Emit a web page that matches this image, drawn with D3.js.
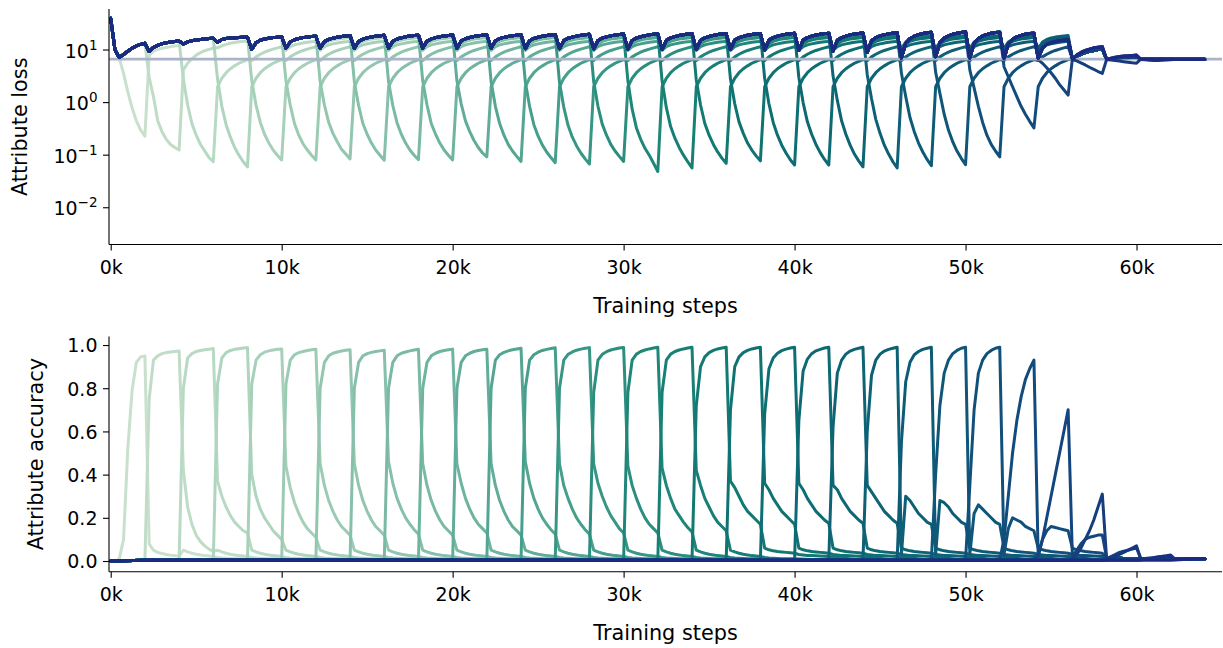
<!DOCTYPE html>
<html>
<head>
<meta charset="utf-8">
<script src="https://cdn.jsdelivr.net/npm/d3@7"></script>
<style>
html,body{margin:0;padding:0;background:#fff;}
svg{display:block;font-family:"DejaVu Sans",sans-serif;}
</style>
</head>
<body>
<svg id="chart" width="1223" height="648"></svg>
<script>
// ---------------- DATA ----------------
// sample grid: every 250 training steps, 0 .. 64k (8 samples per 2k attribute window)
const steps = d3.range(0, 64001, 250);
const xTicks = [0, 10000, 20000, 30000, 40000, 50000, 60000];
const lossTicks = [0.01, 0.1, 1, 10];
const lossTickLabels = [["10", "\u22122"], ["10", "\u22121"], ["10", "0"], ["10", "1"]];
const accTicks = [0, 0.2, 0.4, 0.6, 0.8, 1.0];
const chanceLoss = 6.7;

// loss of attributes not yet trained (top navy line), 8 samples per 2k window
const lossUntrained = [
  40, 10, 7.2, 8.2, 9.5, 10.8, 12.0, 12.8,
  13.4, 9.4, 11.2, 12.3, 13.2, 13.8, 14.2, 14.5,
  14.8, 13.0, 14.3, 15.0, 15.5, 15.9, 16.2, 16.5,
  16.7, 14.0, 15.8, 16.5, 16.9, 17.1, 17.3, 17.4,
  17.5, 10.2, 13.8, 15.3, 16.2, 16.8, 17.2, 17.5,
  17.8, 10.8, 14.2, 15.7, 16.6, 17.2, 17.6, 18.0,
  18.3, 10.8, 14.4, 15.9, 16.8, 17.5, 18.0, 18.4,
  18.8, 10.8, 14.6, 16.1, 17.0, 17.7, 18.3, 18.7,
  19.0, 10.8, 14.7, 16.2, 17.1, 17.8, 18.4, 18.8,
  19.1, 10.8, 14.8, 16.3, 17.2, 17.9, 18.5, 18.9,
  19.3, 10.8, 14.9, 16.4, 17.3, 18.0, 18.6, 19.0,
  19.4, 10.8, 15.0, 16.5, 17.4, 18.1, 18.7, 19.1,
  19.5, 10.6, 15.0, 16.6, 17.5, 18.2, 18.8, 19.3,
  19.7, 10.6, 15.1, 16.7, 17.6, 18.4, 19.0, 19.5,
  19.9, 10.5, 15.2, 16.8, 17.8, 18.6, 19.2, 19.7,
  20.1, 10.4, 15.2, 16.9, 17.9, 18.7, 19.4, 19.9,
  20.3, 10.3, 15.3, 17.0, 18.0, 18.9, 19.6, 20.1,
  20.5, 10.2, 15.3, 17.0, 18.1, 19.0, 19.7, 20.2,
  20.6, 10.2, 15.4, 17.1, 18.2, 19.1, 19.8, 20.3,
  20.7, 10.0, 15.4, 17.2, 18.3, 19.2, 19.9, 20.4,
  20.8, 9.8, 15.4, 17.2, 18.4, 19.3, 20.0, 20.5,
  20.9, 9.5, 15.3, 17.2, 18.4, 19.4, 20.1, 20.6,
  21.0, 9.0, 15.0, 17.2, 18.5, 19.5, 20.3, 20.9,
  21.3, 7.0, 13.5, 16.5, 18.3, 19.6, 20.6, 21.3,
  21.8, 7.4, 13.8, 16.8, 18.6, 19.9, 20.9, 21.6,
  22.2, 7.0, 13.5, 16.6, 18.5, 19.8, 20.8, 21.5,
  21.8, 6.9, 13.0, 16.0, 17.8, 19.0, 20.0, 20.7,
  20.8, 6.9, 11.0, 12.8, 13.8, 14.5, 15.0, 15.4,
  15.8, 6.6, 8.0, 9.0, 9.8, 10.4, 11.0, 11.3,
  11.6, 6.6, 7.0, 7.3, 7.5, 7.7, 7.8, 7.9,
  8.0, 6.75, 6.75, 6.75, 6.75, 6.75, 6.75, 6.75,
  6.75, 6.75, 6.75, 6.75, 6.75, 6.75, 6.75, 6.75,
  6.75
];

// loss of each attribute during its own 2k training window (+250 .. +2000)
const lossTrain = [
  [10, 7.0, 3.6, 1.6, 0.8, 0.45, 0.3, 0.23],
  [3.0, 1.3, 0.45, 0.28, 0.2, 0.16, 0.14, 0.125],
  [2.8, 0.9, 0.4, 0.24, 0.16, 0.12, 0.09, 0.075],
  [2.8, 0.85, 0.38, 0.22, 0.14, 0.1, 0.075, 0.06],
  [2.6, 0.9, 0.42, 0.25, 0.17, 0.125, 0.1, 0.081],
  [2.6, 0.9, 0.4, 0.24, 0.165, 0.125, 0.1, 0.081],
  [2.5, 0.9, 0.42, 0.26, 0.18, 0.13, 0.105, 0.085],
  [2.5, 0.88, 0.4, 0.25, 0.17, 0.125, 0.1, 0.08],
  [2.5, 0.88, 0.41, 0.25, 0.17, 0.125, 0.1, 0.082],
  [2.6, 0.9, 0.4, 0.25, 0.17, 0.125, 0.1, 0.081],
  [2.6, 0.95, 0.45, 0.28, 0.19, 0.14, 0.11, 0.093],
  [2.5, 0.85, 0.4, 0.24, 0.16, 0.12, 0.095, 0.076],
  [2.5, 0.85, 0.38, 0.23, 0.155, 0.115, 0.09, 0.072],
  [2.4, 0.82, 0.37, 0.22, 0.15, 0.11, 0.085, 0.068],
  [2.5, 0.85, 0.39, 0.24, 0.16, 0.12, 0.095, 0.076],
  [2.6, 0.75, 0.33, 0.2, 0.135, 0.1, 0.07, 0.049],
  [2.6, 0.8, 0.35, 0.21, 0.14, 0.1, 0.075, 0.057],
  [2.7, 0.9, 0.4, 0.24, 0.16, 0.115, 0.088, 0.07],
  [2.8, 0.95, 0.43, 0.26, 0.17, 0.125, 0.097, 0.078],
  [2.9, 0.95, 0.42, 0.24, 0.155, 0.11, 0.082, 0.065],
  [3.0, 1.0, 0.43, 0.25, 0.16, 0.112, 0.083, 0.065],
  [3.2, 1.1, 0.45, 0.25, 0.155, 0.105, 0.078, 0.06],
  [3.4, 1.2, 0.48, 0.26, 0.155, 0.105, 0.075, 0.057],
  [3.6, 1.3, 0.52, 0.28, 0.17, 0.115, 0.083, 0.063],
  [3.8, 1.5, 0.6, 0.3, 0.18, 0.12, 0.087, 0.066],
  [4.2, 1.9, 0.85, 0.42, 0.24, 0.16, 0.12, 0.093],
  [4.8, 3.1, 2.0, 1.3, 0.85, 0.6, 0.44, 0.33],
  [6.6, 5.6, 4.6, 3.7, 2.9, 2.2, 1.75, 1.39],
  [6.6, 6.2, 5.7, 5.2, 4.7, 4.3, 3.9, 3.6],
  [6.6, 6.45, 6.3, 6.15, 6.0, 5.85, 5.7, 5.6],
  [6.6, 6.5, 6.4, 6.35, 6.35, 6.4, 6.45, 6.5],
  [6.7, 6.7, 6.7, 6.7, 6.7, 6.7, 6.7, 6.7]
];

// loss after an attribute's window (forgetting), ages +250 .. +10000
const lossForget = [
  2.0, 2.9, 3.7, 4.4, 5.0, 5.6, 6.1, 6.6,
  6.3, 7.4, 8.3, 9.1, 9.8, 10.4, 11.0, 11.5,
  9.8, 11.6, 12.5, 13.1, 13.6, 14.0, 14.3, 14.6,
  10.4, 13.2, 14.6, 15.5, 16.1, 16.6, 17.0, 17.3,
  10.7, 14.2, 15.9, 16.9, 17.6, 18.1, 18.5, 18.8
];
// the first two attributes were forgotten differently
const lossPostFirst = [8.0, 9.5, 10.3, 10.8, 11.2, 11.6, 11.9, 12.2];
const lossPostSecond = [4.2, 5.6, 6.8, 8.0, 8.9, 9.7, 10.3, 10.8, 11.0, 12.0, 12.8, 13.4, 13.9, 14.3, 14.6, 14.9];
// loss of already-trained attributes after 56k (56.25k .. 64k)
const lossTailOld = [
  6.8, 7.6, 8.3, 8.9, 9.4, 9.8, 10.2, 10.5,
  6.6, 6.8, 6.9, 7.0, 7.1, 7.15, 7.2, 7.25,
  6.7, 6.7, 6.7, 6.7, 6.7, 6.7, 6.7, 6.7,
  6.7, 6.7, 6.7, 6.7, 6.7, 6.7, 6.7, 6.7
];

// accuracy of untrained attributes, one value per 2k window boundary (0k .. 64k)
const accUntrained = [0.0, 0.003, 0.004, 0.004, 0.004, 0.004, 0.004, 0.004, 0.004, 0.004, 0.004,
  0.004, 0.004, 0.004, 0.004, 0.004, 0.004, 0.004, 0.004, 0.004, 0.004, 0.004, 0.004,
  0.004, 0.004, 0.004, 0.004, 0.004, 0.004, 0.004, 0.004, 0.004, 0.004];

// accuracy during own training window (+250 .. +2000)
const accTrain = [
  [0.0, 0.01, 0.1, 0.52, 0.79, 0.92, 0.945, 0.95],
  [0.75, 0.93, 0.95, 0.96, 0.965, 0.968, 0.97, 0.972],
  [0.8, 0.94, 0.96, 0.97, 0.975, 0.978, 0.98, 0.984],
  [0.82, 0.94, 0.965, 0.975, 0.98, 0.983, 0.986, 0.988],
  [0.82, 0.93, 0.955, 0.967, 0.973, 0.977, 0.98, 0.982],
  [0.82, 0.93, 0.955, 0.965, 0.97, 0.975, 0.978, 0.98],
  [0.8, 0.92, 0.95, 0.962, 0.968, 0.972, 0.976, 0.978],
  [0.8, 0.92, 0.95, 0.96, 0.966, 0.97, 0.973, 0.976],
  [0.8, 0.92, 0.95, 0.962, 0.968, 0.973, 0.977, 0.98],
  [0.8, 0.92, 0.95, 0.962, 0.97, 0.975, 0.978, 0.981],
  [0.8, 0.92, 0.95, 0.962, 0.97, 0.975, 0.978, 0.98],
  [0.8, 0.93, 0.955, 0.966, 0.973, 0.978, 0.982, 0.985],
  [0.8, 0.93, 0.955, 0.967, 0.975, 0.98, 0.984, 0.987],
  [0.8, 0.93, 0.957, 0.968, 0.976, 0.981, 0.985, 0.988],
  [0.78, 0.93, 0.957, 0.969, 0.977, 0.982, 0.986, 0.989],
  [0.78, 0.93, 0.958, 0.97, 0.977, 0.982, 0.986, 0.99],
  [0.78, 0.93, 0.958, 0.97, 0.977, 0.982, 0.986, 0.99],
  [0.72, 0.9, 0.945, 0.965, 0.975, 0.982, 0.986, 0.99],
  [0.7, 0.9, 0.945, 0.965, 0.975, 0.982, 0.986, 0.99],
  [0.68, 0.89, 0.94, 0.962, 0.974, 0.981, 0.986, 0.99],
  [0.65, 0.88, 0.935, 0.96, 0.973, 0.98, 0.986, 0.99],
  [0.62, 0.87, 0.93, 0.958, 0.972, 0.98, 0.985, 0.99],
  [0.6, 0.86, 0.93, 0.958, 0.972, 0.98, 0.985, 0.99],
  [0.55, 0.83, 0.92, 0.955, 0.97, 0.98, 0.985, 0.99],
  [0.4, 0.72, 0.87, 0.93, 0.96, 0.975, 0.985, 0.99],
  [0.35, 0.7, 0.87, 0.93, 0.96, 0.975, 0.985, 0.99],
  [0.1, 0.3, 0.5, 0.65, 0.76, 0.84, 0.89, 0.93],
  [0.03, 0.1, 0.2, 0.3, 0.4, 0.5, 0.6, 0.70],
  [0.01, 0.03, 0.06, 0.1, 0.14, 0.19, 0.25, 0.31],
  [0.005, 0.01, 0.02, 0.03, 0.04, 0.05, 0.06, 0.07],
  [0.005, 0.008, 0.01, 0.015, 0.02, 0.022, 0.025, 0.028],
  [0.005, 0.006, 0.007, 0.008, 0.009, 0.01, 0.01, 0.01]
];

// accuracy in the window right after own training (+250 .. +2000)
const accPost1 = [
  [0.08, 0.05, 0.04, 0.035, 0.03, 0.027, 0.025, 0.022],
  [0.42, 0.25, 0.17, 0.12, 0.09, 0.07, 0.055, 0.045],
  [0.37, 0.3, 0.25, 0.21, 0.18, 0.16, 0.14, 0.13],
  [0.4, 0.3, 0.24, 0.2, 0.17, 0.14, 0.12, 0.1],
  [0.44, 0.34, 0.27, 0.22, 0.18, 0.15, 0.13, 0.11],
  [0.45, 0.35, 0.28, 0.23, 0.19, 0.16, 0.14, 0.12],
  [0.45, 0.35, 0.28, 0.23, 0.19, 0.16, 0.14, 0.12],
  [0.46, 0.36, 0.29, 0.24, 0.2, 0.17, 0.145, 0.125],
  [0.45, 0.35, 0.28, 0.23, 0.19, 0.16, 0.14, 0.12],
  [0.45, 0.36, 0.29, 0.24, 0.2, 0.17, 0.15, 0.13],
  [0.45, 0.35, 0.28, 0.23, 0.19, 0.16, 0.14, 0.12],
  [0.46, 0.36, 0.29, 0.24, 0.2, 0.17, 0.145, 0.125],
  [0.45, 0.35, 0.29, 0.24, 0.2, 0.17, 0.145, 0.125],
  [0.45, 0.36, 0.3, 0.25, 0.21, 0.18, 0.15, 0.13],
  [0.44, 0.35, 0.29, 0.24, 0.2, 0.17, 0.15, 0.13],
  [0.43, 0.35, 0.29, 0.24, 0.21, 0.18, 0.155, 0.135],
  [0.42, 0.35, 0.29, 0.25, 0.21, 0.18, 0.16, 0.14],
  [0.37, 0.34, 0.3, 0.26, 0.23, 0.21, 0.19, 0.17],
  [0.36, 0.33, 0.29, 0.26, 0.23, 0.21, 0.19, 0.17],
  [0.36, 0.33, 0.29, 0.26, 0.23, 0.21, 0.19, 0.175],
  [0.35, 0.33, 0.29, 0.26, 0.23, 0.21, 0.19, 0.175],
  [0.35, 0.32, 0.29, 0.26, 0.23, 0.21, 0.19, 0.175],
  [0.03, 0.3, 0.28, 0.25, 0.22, 0.2, 0.18, 0.17],
  [0.03, 0.28, 0.27, 0.25, 0.22, 0.2, 0.18, 0.17],
  [0.03, 0.22, 0.26, 0.24, 0.22, 0.2, 0.18, 0.17],
  [0.03, 0.15, 0.2, 0.19, 0.18, 0.16, 0.15, 0.14],
  [0.02, 0.1, 0.14, 0.16, 0.155, 0.15, 0.145, 0.14],
  [0.02, 0.05, 0.08, 0.1, 0.11, 0.115, 0.12, 0.12],
  [0.01, 0.02, 0.03, 0.04, 0.045, 0.05, 0.055, 0.06],
  [0.01, 0.012, 0.014, 0.015, 0.016, 0.017, 0.018, 0.02],
  [0.008, 0.009, 0.01, 0.01, 0.01, 0.01, 0.01, 0.01],
  []
];
// accuracy two and three windows after training (early vs. later attributes)
const accPost2Early = [0.05, 0.042, 0.036, 0.031, 0.028, 0.025, 0.023, 0.021];
const accPost3Early = [0.016, 0.014, 0.013, 0.012, 0.011, 0.01, 0.01, 0.01];
const accPost2Late = [0.06, 0.052, 0.047, 0.044, 0.042, 0.04, 0.038, 0.036];
const accPost3Late = [0.03, 0.028, 0.026, 0.025, 0.024, 0.023, 0.022, 0.021];
// accuracy of older attributes after 58k (58.25k .. 64k)
const accTailOld = [0.015, 0.014, 0.013, 0.013, 0.012, 0.012, 0.012, 0.012,
  0.011, 0.011, 0.011, 0.011, 0.011, 0.011, 0.011, 0.011,
  0.01, 0.01, 0.01, 0.01, 0.01, 0.01, 0.01, 0.01];

const colorStops = ["#c8e0cc", "#a9d2ba", "#7fbca6", "#4ca390", "#138072", "#0b6c72", "#0e5a78", "#14457f", "#1b2a80"];

// ---------------- SERIES ASSEMBLY ----------------
const N_SERIES = lossTrain.length;
const PER = 8;
const LAST = steps.length - 1;

function lossSeries(s) {
  const start = s * PER, end = start + PER;
  const post = s === 0 ? lossPostFirst : (s === 1 ? lossPostSecond : lossForget);
  const pts = [];
  for (let t = 0; t <= LAST; t++) {
    let v;
    if (t <= start) v = lossUntrained[t];
    else if (t <= end) v = lossTrain[s][t - start - 1];
    else if (t >= 225) v = lossTailOld[t - 225];
    else if (t - end <= post.length) v = post[t - end - 1];
    else v = lossUntrained[t];
    pts.push([steps[t], v]);
  }
  return pts;
}

function accSeries(s) {
  const start = s * PER, end = start + PER;
  const late = s >= 17;
  const p2 = late ? accPost2Late : accPost2Early;
  const p3 = late ? accPost3Late : accPost3Early;
  const pts = [];
  for (let t = 0; t <= LAST; t++) {
    if (t <= start) {
      if (t % PER === 0) pts.push([steps[t], accUntrained[t / PER]]);
      continue;
    }
    if (t <= end) { pts.push([steps[t], accTrain[s][t - start - 1]]); continue; }
    const age = t - end;
    if (age <= 8) pts.push([steps[t], accPost1[s][age - 1]]);
    else if (t >= 233) pts.push([steps[t], accTailOld[t - 233]]);
    else if (age <= 16) pts.push([steps[t], p2[age - 9]]);
    else if (age <= 24) pts.push([steps[t], p3[age - 17]]);
    else if (t % PER === 0) pts.push([steps[t], accUntrained[t / PER]]);
  }
  return pts;
}

// ---------------- DRAW ----------------
const svg = d3.select("#chart");
svg.append("rect").attr("width", 1223).attr("height", 648).attr("fill", "#fff");

const left = 109, right = 1222;
const x = d3.scaleLinear().domain([-100, 65000]).range([left, right]);
const yLoss = d3.scaleLog().domain([0.002, 60]).range([244.5, 9.1]);
const yAcc = d3.scaleLinear().domain([-0.0495, 1.0395]).range([571.7, 336.5]);
const color = d3.scaleSequential(d3.interpolateRgbBasis(colorStops)).domain([0, N_SERIES - 1]);

const TICK_FS = 19, LABEL_FS = 20.8;
const defs = svg.append("defs");
defs.append("clipPath").attr("id", "clipTop").append("rect")
  .attr("x", left).attr("y", 9.1).attr("width", right - left).attr("height", 244.5 - 9.1);
defs.append("clipPath").attr("id", "clipBot").append("rect")
  .attr("x", left).attr("y", 336.5).attr("width", right - left).attr("height", 571.7 - 336.5);

function drawPanel(yScale, clipId, seriesFn, withChance) {
  const g = svg.append("g").attr("clip-path", `url(#${clipId})`);
  const line = d3.line().x(d => x(d[0])).y(d => yScale(d[1]));
  for (let s = 0; s < N_SERIES; s++) {
    if (withChance && s === 28) {
      g.append("line")
        .attr("x1", left).attr("x2", right)
        .attr("y1", yScale(chanceLoss)).attr("y2", yScale(chanceLoss))
        .attr("stroke", "#aab3c7").attr("stroke-width", 2.6);
    }
    g.append("path")
      .datum(seriesFn(s))
      .attr("d", line)
      .attr("fill", "none")
      .attr("stroke", color(s))
      .attr("stroke-width", 3)
      .attr("stroke-linejoin", "round")
      .attr("stroke-linecap", "round");
  }
}

drawPanel(yLoss, "clipTop", lossSeries, true);
drawPanel(yAcc, "clipBot", accSeries, false);

function drawXAxis(yPos) {
  const g = svg.append("g").attr("transform", `translate(0,${yPos})`)
    .call(d3.axisBottom(x).tickValues(xTicks).tickSize(6).tickSizeOuter(0)
      .tickFormat(d => `${d / 1000}k`));
  g.select(".domain").attr("stroke", "#000").attr("stroke-width", 1.1)
    .attr("d", `M${left},0H${right}`);
  g.selectAll(".tick line").attr("stroke", "#000").attr("stroke-width", 1.1);
  g.selectAll(".tick text").attr("y", 29.5).attr("dy", null)
    .attr("font-size", TICK_FS).attr("font-family", "DejaVu Sans").attr("fill", "#000");
  svg.append("text").attr("x", (left + right) / 2).attr("y", yPos + 68.3)
    .attr("text-anchor", "middle").attr("font-size", LABEL_FS)
    .attr("font-family", "DejaVu Sans").attr("fill", "#000").text("Training steps");
}

drawXAxis(244.5);
drawXAxis(571.7);

// top y axis (log)
{
  const g = svg.append("g").attr("transform", `translate(${left},0)`);
  g.append("line").attr("x1", 0).attr("x2", 0).attr("y1", 9.1).attr("y2", 244.5)
    .attr("stroke", "#000").attr("stroke-width", 1.1);
  lossTicks.forEach((v, i) => {
    const yy = yLoss(v);
    g.append("line").attr("x1", -6).attr("x2", 0).attr("y1", yy).attr("y2", yy)
      .attr("stroke", "#000").attr("stroke-width", 1.1);
    const t = g.append("text").attr("x", -11.5).attr("y", yy + 7.5)
      .attr("text-anchor", "end").attr("font-size", TICK_FS).attr("fill", "#000");
    t.append("tspan").text(lossTickLabels[i][0]);
    t.append("tspan").attr("font-size", 13.5).attr("dy", -8).text(lossTickLabels[i][1]);
  });
  svg.append("text").attr("transform", `translate(27,${(9.1 + 244.5) / 2}) rotate(-90)`)
    .attr("text-anchor", "middle").attr("font-size", LABEL_FS).attr("fill", "#000")
    .text("Attribute loss");
}

// bottom y axis
{
  const g = svg.append("g").attr("transform", `translate(${left},0)`)
    .call(d3.axisLeft(yAcc).tickValues(accTicks).tickSize(6).tickSizeOuter(0).tickFormat(d3.format(".1f")));
  g.select(".domain").attr("stroke", "#000").attr("stroke-width", 1.1)
    .attr("d", `M0,336.5V571.7`);
  g.selectAll(".tick line").attr("stroke", "#000").attr("stroke-width", 1.1);
  g.selectAll(".tick text").attr("x", -11.5).attr("dy", "0.36em")
    .attr("font-size", TICK_FS).attr("font-family", "DejaVu Sans").attr("fill", "#000");
  svg.append("text").attr("transform", `translate(43,${(336.5 + 571.7) / 2}) rotate(-90)`)
    .attr("text-anchor", "middle").attr("font-size", LABEL_FS).attr("fill", "#000")
    .text("Attribute accuracy");
}
</script>
</body>
</html>
